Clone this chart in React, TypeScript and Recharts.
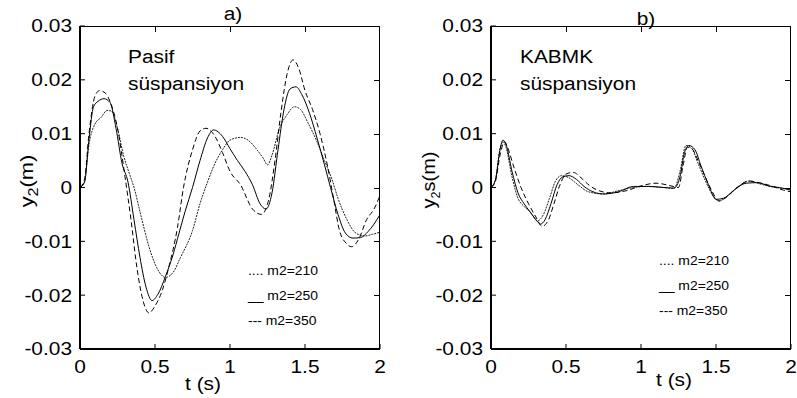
import React from 'react';
import { LineChart, Line, XAxis, YAxis } from 'recharts';

const tTicks = [0, 0.5, 1, 1.5, 2];
const yTicks = [-0.03, -0.02, -0.01, 0, 0.01, 0.02, 0.03];

// a) Pasif süspansiyon
const pasifT210 = [0, 0.03, 0.06, 0.1, 0.14, 0.18, 0.21, 0.25, 0.29, 0.33, 0.36, 0.4, 0.46, 0.51, 0.57, 0.62, 0.67, 0.75, 0.8, 0.85, 0.9, 0.95, 1.0, 1.07, 1.12, 1.18, 1.22, 1.25, 1.28, 1.33, 1.38, 1.43, 1.47, 1.52, 1.58, 1.63, 1.68, 1.72, 1.78, 1.84, 1.9, 1.95, 2.0];
const pasifY210 = [0, 0.001, 0.008, 0.0118, 0.013, 0.0143, 0.0142, 0.011, 0.006, 0.0025, 0.0, -0.0045, -0.011, -0.0148, -0.0167, -0.0158, -0.013, -0.008, -0.003, 0.001, 0.0045, 0.007, 0.0088, 0.0093, 0.0088, 0.007, 0.0055, 0.0042, 0.006, 0.011, 0.0135, 0.015, 0.0145, 0.012, 0.0085, 0.005, 0.0015, -0.002, -0.006, -0.0085, -0.009, -0.0087, -0.0083];

const pasifT250 = [0, 0.03, 0.06, 0.09, 0.12, 0.16, 0.2, 0.24, 0.28, 0.32, 0.36, 0.4, 0.44, 0.48, 0.52, 0.57, 0.62, 0.66, 0.7, 0.75, 0.8, 0.85, 0.89, 0.95, 1.0, 1.05, 1.1, 1.15, 1.2, 1.24, 1.28, 1.32, 1.36, 1.4, 1.44, 1.48, 1.53, 1.58, 1.63, 1.67, 1.72, 1.77, 1.82, 1.87, 1.92, 1.96, 2.0];
const pasifY250 = [0, 0.001, 0.009, 0.015, 0.016, 0.0165, 0.0158, 0.011, 0.0045, 0.001, -0.006, -0.013, -0.0185, -0.021, -0.0198, -0.0165, -0.0125, -0.0085, -0.0045, 0.0, 0.005, 0.0092, 0.0107, 0.0095, 0.0072, 0.005, 0.003, 0.0005, -0.003, -0.004, -0.001, 0.007, 0.0145, 0.0183, 0.0187, 0.0172, 0.0138, 0.0092, 0.0042, 0.0, -0.005, -0.0085, -0.0094, -0.0093, -0.0082, -0.0068, -0.005];

const pasifT350 = [0, 0.03, 0.06, 0.1, 0.13, 0.17, 0.2, 0.25, 0.3, 0.34, 0.38, 0.42, 0.46, 0.5, 0.55, 0.59, 0.65, 0.69, 0.75, 0.8, 0.84, 0.9, 0.95, 1.0, 1.07, 1.15, 1.21, 1.26, 1.3, 1.34, 1.38, 1.42, 1.46, 1.5, 1.55, 1.6, 1.65, 1.69, 1.73, 1.78, 1.81, 1.86, 1.91, 1.96, 2.0];
const pasifY350 = [0, 0.0015, 0.01, 0.017, 0.018, 0.0175, 0.016, 0.011, 0.002, -0.006, -0.015, -0.021, -0.0233, -0.022, -0.019, -0.015, -0.0074, 0.0, 0.007, 0.0105, 0.011, 0.0095, 0.0065, 0.003, 0.0005, -0.004, -0.005, -0.002, 0.005, 0.014, 0.021, 0.0237, 0.022, 0.018, 0.0145, 0.01, 0.004, -0.002, -0.008, -0.0105, -0.011, -0.0095, -0.006, -0.004, -0.0015];

// b) KABMK süspansiyon
const kabmkT210 = [0, 0.03, 0.06, 0.08, 0.1, 0.14, 0.18, 0.22, 0.26, 0.31, 0.35, 0.39, 0.43, 0.47, 0.52, 0.58, 0.65, 0.75, 0.85, 0.95, 1.05, 1.15, 1.22, 1.26, 1.3, 1.34, 1.38, 1.43, 1.48, 1.52, 1.58, 1.65, 1.72, 1.8, 1.9, 2.0];
const kabmkY210 = [0, 0.0015, 0.0072, 0.0085, 0.0075, 0.002, -0.002, -0.0035, -0.0045, -0.0062, -0.005, -0.002, 0.0012, 0.0022, 0.0018, 0.0005, -0.0008, -0.0012, -0.0006, 0.0, 0.0002, 0.0, -0.0002, 0.003, 0.0078, 0.0072, 0.0045, 0.0012, -0.0015, -0.0025, -0.0015, 0.0002, 0.0012, 0.0006, 0.0, -0.0003];

const kabmkT250 = [0, 0.03, 0.06, 0.08, 0.1, 0.14, 0.18, 0.22, 0.26, 0.3, 0.33, 0.36, 0.4, 0.44, 0.48, 0.52, 0.57, 0.62, 0.68, 0.75, 0.85, 0.95, 1.05, 1.15, 1.22, 1.26, 1.29, 1.32, 1.36, 1.4, 1.45, 1.5, 1.55, 1.62, 1.7, 1.78, 1.85, 1.92, 2.0];
const kabmkY250 = [0, 0.0015, 0.007, 0.0088, 0.008, 0.003, -0.001, -0.003, -0.0045, -0.006, -0.0068, -0.006, -0.003, 0.0005, 0.002, 0.0022, 0.0015, 0.0002, -0.0008, -0.0012, -0.0008, 0.0002, 0.0002, 0.0, -0.0001, 0.002, 0.0065, 0.0078, 0.007, 0.004, 0.0005, -0.0022, -0.002, -0.0005, 0.0008, 0.0009, 0.0003, 0.0, -0.0005];

const kabmkT350 = [0, 0.03, 0.06, 0.09, 0.11, 0.15, 0.2, 0.25, 0.3, 0.34, 0.38, 0.42, 0.46, 0.5, 0.55, 0.6, 0.66, 0.72, 0.8, 0.9, 1.0, 1.1, 1.2, 1.25, 1.28, 1.31, 1.34, 1.38, 1.42, 1.47, 1.52, 1.57, 1.64, 1.72, 1.8, 1.88, 1.95, 2.0];
const kabmkY350 = [0, 0.0012, 0.006, 0.0085, 0.0075, 0.004, 0.0, -0.003, -0.0055, -0.0072, -0.0062, -0.003, 0.0005, 0.0025, 0.0028, 0.0018, 0.0003, -0.0006, -0.001, -0.0006, 0.0003, 0.0008, 0.0003, 0.0, 0.004, 0.0075, 0.0072, 0.005, 0.0025, -0.0005, -0.0025, -0.0018, 0.0, 0.0012, 0.0008, 0.0002, -0.0005, -0.0008];

const legendLabels = ['.... m2=210', '__ m2=250', '--- m2=350'];

const FONT = '"Liberation Sans", Arial, sans-serif';
const SX = 1.16;

// plot box geometry shared by the chart margins and the frame
const PLOT_TOP = 26;
const PLOT_H = 323;
const PLOT_W = 300;

const zip = (t: number[], y: number[]) => t.map((v, i) => ({ t: v, y: y[i] }));

const TickText = (props: any) => {
  const { x, y, payload, textAnchor, vertical } = props;
  return (
    <text
      transform={`translate(${x},${y}) scale(${SX},1)`}
      textAnchor={textAnchor}
      dy={vertical ? '0.36em' : '0.71em'}
      fontSize={18}
      fontFamily={FONT}
      fill="#000"
    >
      {String(payload.value)}
    </text>
  );
};

const Txt = ({ x, y, size = 18, anchor = 'start', children }: any) => (
  <text
    transform={`translate(${x},${y}) scale(${SX},1)`}
    textAnchor={anchor}
    fontSize={size}
    fontFamily={FONT}
    fill="#000"
  >
    {children}
  </text>
);

// top + right frame edges and their inward ticks, as plain html boxes
const Frame = ({ x0 }: { x0: number }) => {
  const px = (t: number) => (t / 2) * PLOT_W;
  const py = (v: number) => ((0.03 - v) / 0.06) * PLOT_H;
  return (
    <div
      style={{
        position: 'absolute',
        left: x0,
        top: PLOT_TOP,
        width: PLOT_W,
        height: PLOT_H,
        borderTop: '1px solid #000',
        borderRight: '1px solid #000',
        boxSizing: 'border-box',
        pointerEvents: 'none',
      }}
    >
      {tTicks.slice(1, -1).map((t) => (
        <div key={'t' + t} style={{ position: 'absolute', left: px(t) - 0.5, top: 0, width: 1, height: 5, background: '#000' }} />
      ))}
      {yTicks.slice(1, -1).map((v) => (
        <div key={'y' + v} style={{ position: 'absolute', right: 0, top: py(v) - 1, width: 5, height: 1, background: '#000' }} />
      ))}
    </div>
  );
};

const Panel = ({ left, width, plotLeft, series }: any) => (
  <div style={{ position: 'absolute', left, top: 0 }}>
    <LineChart
      width={width}
      height={398}
      margin={{ top: PLOT_TOP, right: width - plotLeft - PLOT_W, bottom: 398 - PLOT_TOP - PLOT_H - 20, left: plotLeft - 20 }}
    >
      <XAxis
        dataKey="t"
        type="number"
        domain={[0, 2]}
        ticks={tTicks}
        height={20}
        tickSize={-5}
        tickMargin={16}
        tick={<TickText />}
        axisLine={{ stroke: '#000', strokeWidth: 2 }}
        tickLine={{ stroke: '#000', strokeWidth: 1 }}
        allowDataOverflow
      />
      <YAxis
        type="number"
        domain={[-0.03, 0.03]}
        ticks={yTicks}
        width={20}
        tickSize={-5}
        tickMargin={13}
        tick={<TickText vertical />}
        axisLine={{ stroke: '#000', strokeWidth: 2 }}
        tickLine={{ stroke: '#000', strokeWidth: 1 }}
        allowDataOverflow
      />
      <Line data={series[0]} dataKey="y" type="monotone" stroke="#222" strokeWidth={1} strokeDasharray="2 1" dot={false} isAnimationActive={false} />
      <Line data={series[1]} dataKey="y" type="monotone" stroke="#000" strokeWidth={1} dot={false} isAnimationActive={false} />
      <Line data={series[2]} dataKey="y" type="monotone" stroke="#000" strokeWidth={1} strokeDasharray="5 3" dot={false} isAnimationActive={false} />
    </LineChart>
  </div>
);

export default function App() {
  const pasif = [zip(pasifT210, pasifY210), zip(pasifT250, pasifY250), zip(pasifT350, pasifY350)];
  const kabmk = [zip(kabmkT210, kabmkY210), zip(kabmkT250, kabmkY250), zip(kabmkT350, kabmkY350)];

  return (
    <div style={{ position: 'absolute', left: 0, top: 0, width: 797, height: 398, background: '#fff', overflow: 'hidden' }}>
      <Panel left={0} width={400} plotLeft={80} series={pasif} />
      <Panel left={400} width={397} plotLeft={91} series={kabmk} />
      <Frame x0={80} />
      <Frame x0={491} />

      <svg width={797} height={398} style={{ position: 'absolute', left: 0, top: 0, pointerEvents: 'none' }}>
        <Txt x={233} y={20} anchor="middle">a)</Txt>
        <Txt x={646} y={25} anchor="middle">b)</Txt>

        <Txt x={128} y={63}>Pasif</Txt>
        <Txt x={128} y={90}>süspansiyon</Txt>
        <Txt x={520} y={63}>KABMK</Txt>
        <Txt x={520} y={90}>süspansiyon</Txt>

        <Txt x={203} y={390} anchor="middle">t (s)</Txt>
        <Txt x={674} y={386} anchor="middle">t (s)</Txt>

        <text transform="translate(33,181) rotate(-90) scale(1.15,1)" textAnchor="middle" fontSize={19} fontFamily={FONT}>
          y<tspan dy={5} fontSize={14}>2</tspan><tspan dy={-5}>(m)</tspan>
        </text>
        <text transform="translate(435,180) rotate(-90) scale(1.05,1)" textAnchor="middle" fontSize={19} fontFamily={FONT}>
          y<tspan dy={5} fontSize={12}>2</tspan><tspan dy={-5}>s(m)</tspan>
        </text>

        {legendLabels.map((s, i) => (
          <Txt key={'la' + i} x={248} y={275 + i * 25} size={12}>{s}</Txt>
        ))}
        {legendLabels.map((s, i) => (
          <Txt key={'lb' + i} x={659} y={265 + i * 25} size={12}>{s}</Txt>
        ))}
      </svg>
    </div>
  );
}
